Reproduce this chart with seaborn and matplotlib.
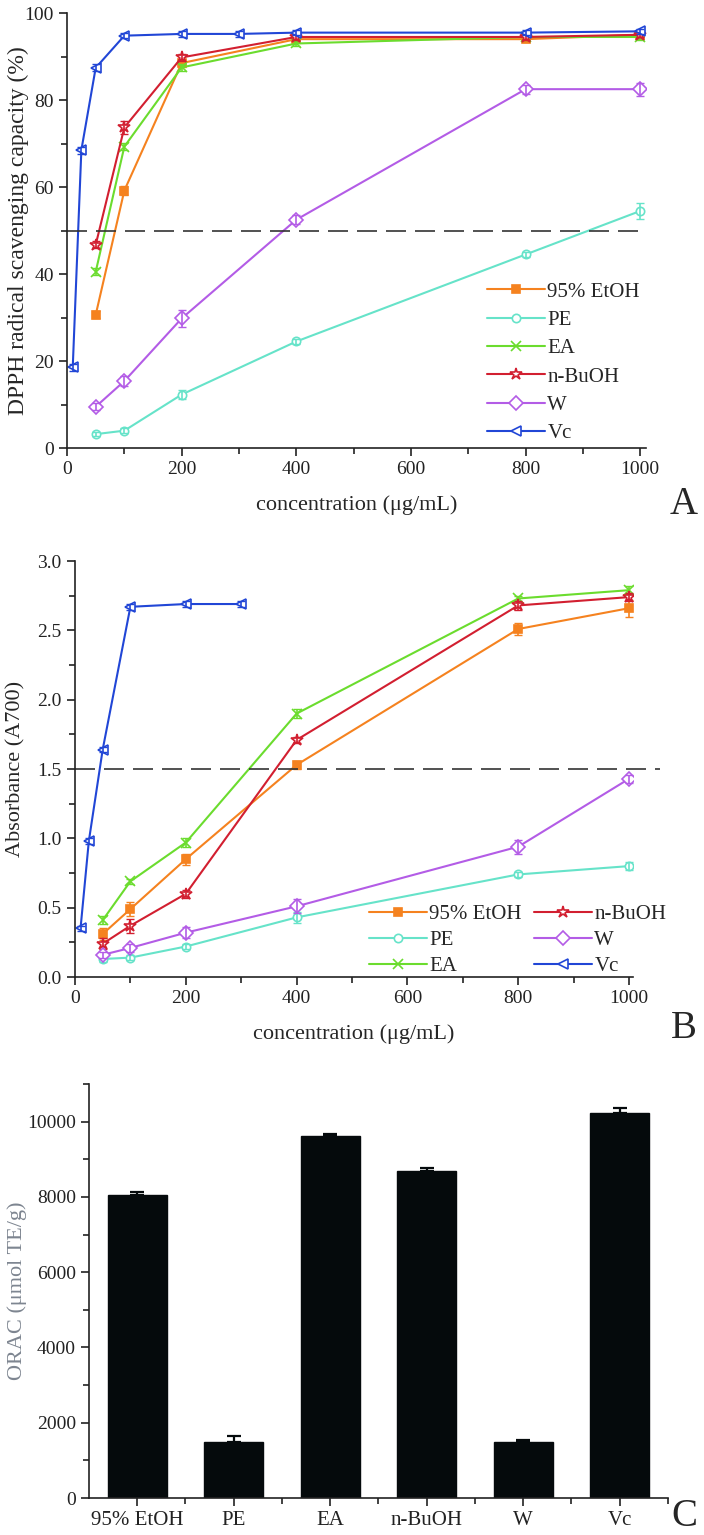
import numpy as np
import pandas as pd
import matplotlib.pyplot as plt
from matplotlib.ticker import MultipleLocator, FixedLocator
import seaborn as sns


# concentrations (ug/mL)
conc = [50, 100, 200, 400, 800, 1000]
vc_conc_a = [10, 25, 50, 100, 200, 300, 400, 800, 1000]
vc_conc_b = [10, 25, 50, 100, 200, 300]

names = ['95% EtOH', 'PE', 'EA', 'n-BuOH', 'W', 'Vc']

# panel A: DPPH radical scavenging capacity (%)
dpph_etoh = [30.6, 59.2, 88.5, 94.0, 94.0, 95.0]
dpph_pe = [3.2, 4.0, 12.3, 24.5, 44.5, 54.5]
dpph_ea = [40.5, 69.3, 87.5, 93.0, 94.5, 94.5]
dpph_buoh = [46.7, 73.7, 89.8, 94.5, 94.5, 95.0]
dpph_w = [9.5, 15.4, 29.8, 52.5, 82.5, 82.5]
dpph_vc = [18.6, 68.5, 87.4, 94.8, 95.2, 95.2, 95.5, 95.5, 95.8]

dpph_etoh_err = [0.8, 1.0, 1.0, 0.6, 0.6, 0.6]
dpph_pe_err = [0.5, 0.5, 1.0, 0.6, 0.6, 1.8]
dpph_ea_err = [0.8, 0.8, 0.8, 0.6, 0.6, 0.6]
dpph_buoh_err = [0.8, 1.5, 0.8, 0.6, 0.6, 0.6]
dpph_w_err = [0.8, 1.2, 2.0, 1.0, 1.0, 1.5]
dpph_vc_err = [0.8, 0.8, 0.8, 0.6, 0.6, 0.6, 0.6, 0.6, 0.6]

# panel B: absorbance at 700 nm
frap_etoh = [0.31, 0.49, 0.85, 1.53, 2.51, 2.66]
frap_pe = [0.13, 0.14, 0.22, 0.43, 0.74, 0.80]
frap_ea = [0.41, 0.69, 0.97, 1.90, 2.73, 2.79]
frap_buoh = [0.24, 0.37, 0.60, 1.71, 2.68, 2.74]
frap_w = [0.16, 0.21, 0.32, 0.51, 0.94, 1.43]
frap_vc = [0.35, 0.98, 1.64, 2.67, 2.69, 2.69]

frap_etoh_err = [0.04, 0.05, 0.04, 0.03, 0.04, 0.06]
frap_pe_err = [0.02, 0.02, 0.02, 0.04, 0.02, 0.03]
frap_ea_err = [0.03, 0.02, 0.03, 0.03, 0.02, 0.03]
frap_buoh_err = [0.04, 0.05, 0.03, 0.02, 0.03, 0.03]
frap_w_err = [0.02, 0.03, 0.04, 0.05, 0.05, 0.03]
frap_vc_err = [0.02, 0.02, 0.02, 0.02, 0.02, 0.02]

# panel C: ORAC (umol TE/g)
orac = [8040, 1480, 9630, 8690, 1480, 10220]
orac_err = [100, 180, 30, 70, 60, 130]

colors = {'95% EtOH': '#f5821f', 'PE': '#66e3c9', 'EA': '#6bdc2e',
          'n-BuOH': '#d21f30', 'W': '#b35ce6', 'Vc': '#2146d6'}
markers = {'95% EtOH': ('s', 6, True), 'PE': ('o', 6, False), 'EA': ('x', 7, False),
           'n-BuOH': ('*', 9, False), 'W': ('D', 7, False), 'Vc': ('<', 7, False)}

sns.set_style('ticks')
plt.rcParams['font.family'] = ['Liberation Serif', 'DejaVu Serif']

fig = plt.figure(figsize=(7.04, 15.35), dpi=100)
ax_a = fig.add_axes([0.0952, 0.7081, 0.8224, 0.2834])
ax_b = fig.add_axes([0.1065, 0.3635, 0.7926, 0.2710])
ax_c = fig.add_axes([0.1264, 0.0241, 0.8224, 0.2697])

TICK_FS = 14
LABEL_FS = 16


def draw_series(ax, x, y, err, name):
    m, ms, filled = markers[name]
    c = colors[name]
    df = pd.DataFrame({'x': x, 'y': y})
    sns.lineplot(data=df, x='x', y='y', ax=ax, color=c, lw=1.5, marker=m, ms=ms,
                 mfc=c if filled else 'white', mec=c, mew=1.2, label=name)
    ax.errorbar(x, y, yerr=err, fmt='none', ecolor=c, elinewidth=1.2, capsize=3)


def style_axis(ax):
    for s in ['top', 'right']:
        ax.spines[s].set_visible(False)
    for s in ['left', 'bottom']:
        ax.spines[s].set_color('#222222')
        ax.spines[s].set_linewidth(1.2)
    ax.tick_params(which='major', direction='out', length=6, width=1.2,
                   labelsize=TICK_FS, colors='#222222')
    ax.tick_params(which='minor', direction='out', length=4, width=1.2, colors='#222222')


# ---- panel A
a_series = [(conc, dpph_etoh, dpph_etoh_err, '95% EtOH'),
            (conc, dpph_pe, dpph_pe_err, 'PE'),
            (conc, dpph_ea, dpph_ea_err, 'EA'),
            (conc, dpph_buoh, dpph_buoh_err, 'n-BuOH'),
            (conc, dpph_w, dpph_w_err, 'W'),
            (vc_conc_a, dpph_vc, dpph_vc_err, 'Vc')]
for x, y, e, n in a_series:
    draw_series(ax_a, x, y, e, n)
ax_a.hlines(50, 0, 1000, colors='#333333', lw=1.2, linestyles=(0, (12, 5.4)))
ax_a.set_xlim(0, 1010)
ax_a.set_ylim(0, 100)
ax_a.xaxis.set_major_locator(MultipleLocator(200))
ax_a.xaxis.set_minor_locator(MultipleLocator(100))
ax_a.yaxis.set_major_locator(MultipleLocator(20))
ax_a.yaxis.set_minor_locator(MultipleLocator(10))
style_axis(ax_a)
ax_a.set_xlabel('concentration (μg/mL)', fontsize=LABEL_FS)
ax_a.set_ylabel('DPPH radical scavenging capacity (%)', fontsize=17)
ax_a.xaxis.set_label_coords(0.5, -0.108)
ax_a.yaxis.set_label_coords(-0.066, 0.5)
ax_a.legend(loc='upper left', bbox_to_anchor=(0.70, 0.415), frameon=False, fontsize=15,
            handlelength=2.8, handletextpad=0.1, labelspacing=0.42, borderpad=0.2)

# ---- panel B
b_series = [(conc, frap_etoh, frap_etoh_err, '95% EtOH'),
            (conc, frap_pe, frap_pe_err, 'PE'),
            (conc, frap_ea, frap_ea_err, 'EA'),
            (conc, frap_buoh, frap_buoh_err, 'n-BuOH'),
            (conc, frap_w, frap_w_err, 'W'),
            (vc_conc_b, frap_vc, frap_vc_err, 'Vc')]
for x, y, e, n in b_series:
    draw_series(ax_b, x, y, e, n)
ax_b.hlines(1.5, 0, 1055, colors='#333333', lw=1.2, linestyles=(0, (12, 5.4)), clip_on=False)
ax_b.set_xlim(0, 1007)
ax_b.set_ylim(0, 3.0)
ax_b.xaxis.set_major_locator(MultipleLocator(200))
ax_b.xaxis.set_minor_locator(MultipleLocator(100))
ax_b.yaxis.set_major_locator(MultipleLocator(0.5))
ax_b.yaxis.set_minor_locator(MultipleLocator(0.25))
ax_b.yaxis.set_major_formatter(plt.FormatStrFormatter('%.1f'))
style_axis(ax_b)
ax_b.set_xlabel('concentration (μg/mL)', fontsize=LABEL_FS)
ax_b.set_ylabel('Absorbance (A700)', fontsize=LABEL_FS)
ax_b.xaxis.set_label_coords(0.5, -0.113)
ax_b.yaxis.set_label_coords(-0.088, 0.5)
ax_b.legend(loc='upper left', bbox_to_anchor=(0.50, 0.209), frameon=False, fontsize=15,
            ncol=2, columnspacing=0.6, handlelength=2.8, handletextpad=0.1,
            labelspacing=0.3, borderpad=0.2)

# ---- panel C
orac_df = pd.DataFrame({'sample': names, 'orac': orac})
sns.barplot(data=orac_df, x='sample', y='orac', ax=ax_c, color='#050a0c',
            width=0.61, saturation=1, edgecolor='#050a0c')
ax_c.errorbar(np.arange(len(names)), orac, yerr=[np.zeros(len(orac)), orac_err],
              fmt='none', ecolor='#050a0c', elinewidth=1.6, capsize=5, capthick=1.6)
ax_c.set_xlim(-0.5, 5.5)
ax_c.set_ylim(0, 11000)
ax_c.yaxis.set_major_locator(FixedLocator([0, 2000, 4000, 6000, 8000, 10000]))
ax_c.yaxis.set_minor_locator(MultipleLocator(1000))
ax_c.xaxis.set_minor_locator(FixedLocator([0.5, 1.5, 2.5, 3.5, 4.5, 5.5]))
style_axis(ax_c)
ax_c.tick_params(axis='x', labelsize=15)
ax_c.set_xlabel('')
ax_c.set_ylabel('ORAC (μmol TE/g)', fontsize=LABEL_FS, color='#7d8590')
ax_c.yaxis.set_label_coords(-0.107, 0.5)

# panel letters
for letter, ypx in [('A', 505), ('B', 1028), ('C', 1517)]:
    fig.text(684 / 704, 1 - ypx / 1535, letter, fontsize=28, ha='center', va='center')

fig.savefig('out.png', dpi=100)
